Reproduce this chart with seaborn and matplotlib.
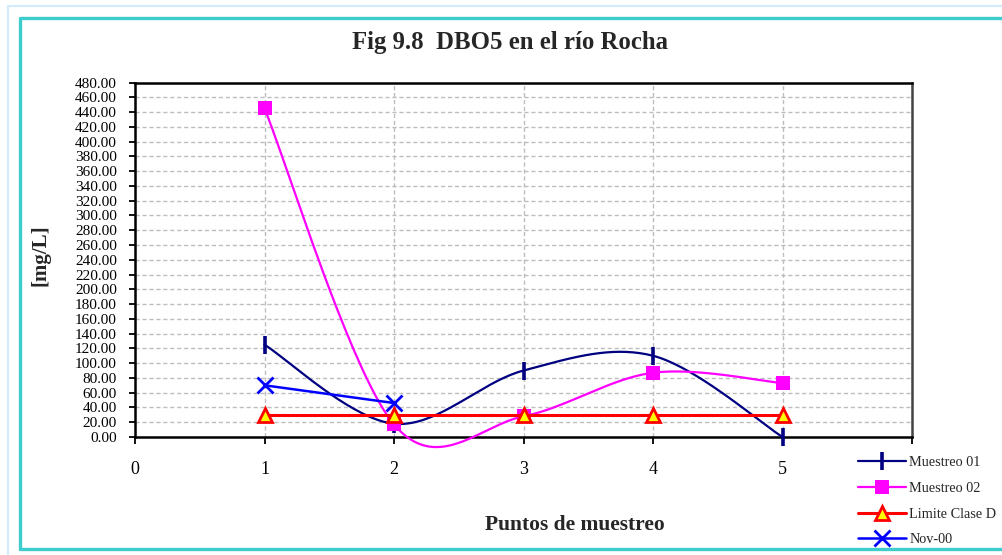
import numpy as np
import pandas as pd
import matplotlib
matplotlib.use("Agg")
import matplotlib.pyplot as plt
from matplotlib.lines import Line2D
import seaborn as sns

# Sampling points along the Rocha river and DBO5 readings [mg/L]
puntos = [1, 2, 3, 4, 5]
muestreo_01 = [125, 18, 90, 110, 0]
muestreo_02 = [445, 17, 28, 87, 73]
limite_clase_d = [30, 30, 30, 30, 30]
puntos_nov = [1, 2]
nov_00 = [70, 46]

x_ticks = [0, 1, 2, 3, 4, 5, 6]
x_tick_labels = ["0", "1", "2", "3", "4", "5", ""]
y_ticks = list(range(0, 481, 20))


def smooth_curve(x, y, n=40):
    """Bezier smoothing through every point (spreadsheet-style smoothed line)."""
    x = np.asarray(x, float)
    y = np.asarray(y, float)
    if len(x) < 3:
        return x, y
    px = np.concatenate([[x[0]], x, [x[-1]]])
    py = np.concatenate([[y[0]], y, [y[-1]]])
    xs, ys = [], []
    t = np.linspace(0, 1, n)
    for i in range(1, len(px) - 2):
        p0 = np.array([px[i], py[i]])
        p3 = np.array([px[i + 1], py[i + 1]])
        c1 = p0 + (np.array([px[i + 1], py[i + 1]]) - np.array([px[i - 1], py[i - 1]])) / 6
        c2 = p3 - (np.array([px[i + 2], py[i + 2]]) - np.array([px[i], py[i]])) / 6
        b = ((1 - t) ** 3)[:, None] * p0 + (3 * (1 - t) ** 2 * t)[:, None] * c1 \
            + (3 * (1 - t) * t ** 2)[:, None] * c2 + (t ** 3)[:, None] * p3
        xs.append(b[:, 0])
        ys.append(b[:, 1])
    return np.concatenate(xs), np.concatenate(ys)


sns.set_theme(style="white")
plt.rcParams["font.family"] = ["Liberation Serif", "DejaVu Serif"]

fig = plt.figure(figsize=(10.02, 5.55), dpi=100)
fig.patch.set_facecolor("white")

# Outer frame lines
fig.add_artist(Line2D([8 / 1002, 8 / 1002], [0, 1 - 6 / 555], transform=fig.transFigure,
                      color="#D4ECFA", lw=1.6))
fig.add_artist(Line2D([8 / 1002, 1], [1 - 6 / 555, 1 - 6 / 555], transform=fig.transFigure,
                      color="#D4ECFA", lw=1.6))
fig.add_artist(Line2D([20 / 1002, 20 / 1002, 1.01], [1 - 549 / 555, 1 - 18 / 555, 1 - 18 / 555],
                      transform=fig.transFigure, color="#3ECCCC", lw=2.4))
fig.add_artist(Line2D([20 / 1002, 1.01], [1 - 549 / 555, 1 - 549 / 555],
                      transform=fig.transFigure, color="#3ECCCC", lw=2.4))

ax = fig.add_axes([135 / 1002, 1 - 437 / 555, (912 - 135) / 1002, (437 - 82.5) / 555])
ax.set_facecolor("white")

series = [
    ("Muestreo 01", puntos, muestreo_01, dict(color="#000080", lw=1.6), True,
     dict(marker="|", ms=13, mew=2.6, mec="#000080", mfc="#000080")),
    ("Muestreo 02", puntos, muestreo_02, dict(color="#FF00FF", lw=1.6), True,
     dict(marker="s", ms=10, mew=0, mfc="#FF00FF", mec="#FF00FF")),
    ("Limite Clase D", puntos, limite_clase_d, dict(color="#FF0000", lw=2.2), False,
     dict(marker="^", ms=10, mew=2, mfc="#FFFF00", mec="#FF0000")),
    ("Nov-00", puntos_nov, nov_00, dict(color="#0000FF", lw=1.8), False,
     dict(marker="x", ms=11, mew=2, mec="#0000FF", mfc="#0000FF")),
]

handles = []
for z, (name, xs, ys, lstyle, smooth, mstyle) in enumerate(series):
    cx, cy = smooth_curve(xs, ys) if smooth else (np.asarray(xs, float), np.asarray(ys, float))
    curve = pd.DataFrame({"x": cx, "y": cy})
    sns.lineplot(data=curve, x="x", y="y", sort=False, estimator=None, ax=ax,
                 color=lstyle["color"], lw=lstyle["lw"], zorder=3 + z)
    ax.lines[-1].set_clip_on(False)
    pts = pd.DataFrame({"x": xs, "y": ys})
    ax.plot(pts["x"], pts["y"], ls="none", zorder=3.5 + z, clip_on=False, **mstyle)
    handles.append(Line2D([], [], color=lstyle["color"], lw=lstyle["lw"], **mstyle))

ax.set_xlim(0, 6)
ax.set_ylim(0, 480)
ax.set_xticks(x_ticks)
ax.set_xticklabels(x_tick_labels, fontsize=13)
ax.set_yticks(y_ticks)
ax.set_yticklabels([f"{v:.2f}" for v in y_ticks], fontsize=11)
ax.tick_params(axis="x", direction="out", length=5, width=1.3, pad=12, colors="black")
ax.tick_params(axis="y", direction="out", length=4, width=1.3, pad=9, colors="black")
ax.tick_params(axis="both", bottom=True, left=True)
ax.set_xlabel("")
ax.set_ylabel("")

ax.grid(True, color="#BDBDBD", ls=(0, (3, 2)), lw=1.0)
ax.set_axisbelow(True)
for side, sp in ax.spines.items():
    sp.set_visible(True)
    sp.set_color("black" if side != "right" else "#444444")
    sp.set_linewidth(1.8)

fig.text(510 / 1002, 1 - 42 / 555, "Fig 9.8  DBO5 en el río Rocha", ha="center", va="center",
         fontsize=17.8, fontweight="bold")
fig.text(40 / 1002, 1 - 255 / 555, "[mg/L]", ha="center", va="center", rotation=90,
         fontsize=15, fontweight="bold")
fig.text(575 / 1002, 1 - 525 / 555, "Puntos de muestreo", ha="center", va="center",
         fontsize=15.5, fontweight="bold")

fig.legend(handles, [s[0] for s in series], loc="upper left",
           bbox_to_anchor=(852 / 1002, 1 - 450 / 555), frameon=False, fontsize=10.3,
           handlelength=3.4, handletextpad=0.2, labelspacing=0.9, borderaxespad=0)

fig.savefig("out.png", dpi=100, facecolor="white")
